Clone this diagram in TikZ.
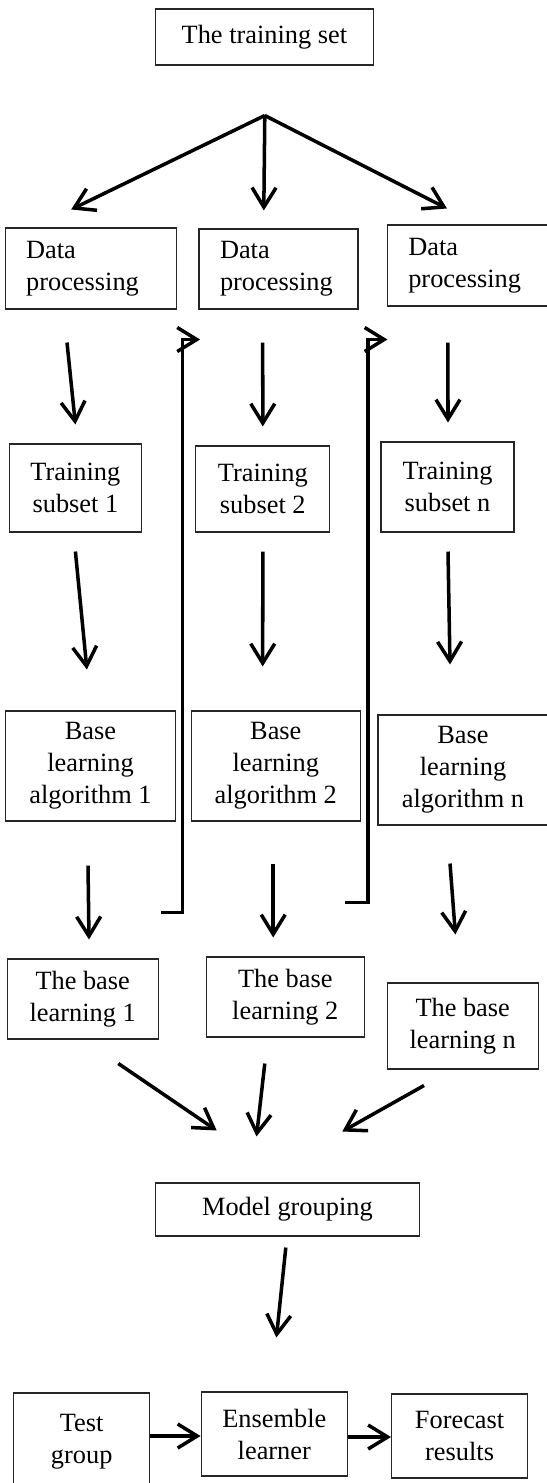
\documentclass[tikz,border=0pt]{standalone}
\usepackage{fontspec}
\setmainfont{Liberation Serif}
\usetikzlibrary{arrows.meta,calc}

\begin{document}
\begin{tikzpicture}[x=0.02cm, y=-0.02cm,
  blk/.style={draw=black!85, line width=0.6pt, align=center, font=\fontsize{15}{18.2}\selectfont},
  lblk/.style={blk, align=left, inner xsep=0.42cm},
  arr/.style={line width=2pt, -{Straight Barb[length=3.9mm,width=4.8mm]}},
  fbk/.style={arr, line cap=rect}]

\useasboundingbox (0,0) rectangle (547,1483);

\node[blk, minimum width=4.374cm, minimum height=1.12cm] (tset) at (264.4,37) {The training set};

\node[lblk, text width=2.594cm, minimum width=3.434cm, minimum height=1.62cm] (dp1) at (91,268.5) {Data\\processing};
\node[lblk, text width=2.34cm, minimum width=3.18cm, minimum height=1.6cm] (dp2) at (278.5,269) {Data\\processing};
\node[lblk, text width=3.014cm, minimum width=3.854cm, minimum height=1.62cm] (dp3) at (483.65,265.5) {Data\\processing};

\node[blk, minimum width=2.638cm, minimum height=1.76cm] (ts1) at (75.4,488) {Training\\subset 1};
\node[blk, minimum width=2.68cm, minimum height=1.72cm] (ts2) at (262.8,489) {Training\\subset 2};
\node[blk, minimum width=2.66cm, minimum height=1.8cm] (ts3) at (447.5,487) {Training\\subset n};

\node[blk, minimum width=3.414cm, minimum height=2.2cm] (bla1) at (90.5,766) {Base\\learning\\algorithm 1};
\node[blk, minimum width=3.37cm, minimum height=2.2cm] (bla2) at (275.8,766) {Base\\learning\\algorithm 2};
\node[blk, minimum width=3.4cm, minimum height=2.2cm] (bla3) at (463,770) {Base\\learning\\algorithm n};

\node[blk, minimum width=3.014cm, minimum height=1.6cm] (bl1) at (82.7,999) {The base\\learning 1};
\node[blk, minimum width=3.162cm, minimum height=1.6cm] (bl2) at (285.3,997) {The base\\learning 2};
\node[blk, minimum width=3.014cm, minimum height=1.72cm] (bl3) at (462.7,1026) {The base\\learning n};

\node[blk, minimum width=5.296cm, minimum height=1.06cm] (mg) at (287.4,1209.5) {Model grouping};

\node[blk, minimum width=2.722cm, minimum height=1.94cm] (tg) at (81.7,1441.5) {Test\\group};
\node[blk, minimum width=2.93cm, minimum height=1.68cm] (el) at (274.3,1434) {Ensemble\\learner};
\node[blk, minimum width=2.724cm, minimum height=1.68cm] (fr) at (459.6,1436) {Forecast\\results};

\coordinate (fork) at ($(tset.south)+(0.4,50)$);
\draw[arr] (fork) -- ($(dp1.north)+(-19.8,-18)$);
\draw[arr] (fork) -- ($(dp2.north)+(-14.7,-18)$);
\draw[arr] (fork) -- ($(dp3.north)+(-36.7,-16)$);

\draw[arr] ($(dp1.south)+(-24,33)$) -- ($(ts1.north)+(0,-19)$);
\draw[arr] ($(dp2.south)+(-15.8,33)$) -- ($(ts2.north)+(0,-19)$);
\draw[arr] ($(dp3.south)+(-35.7,36)$) -- ($(ts3.north)+(0.5,-19)$);

\draw[arr] ($(ts1.south)+(0,19)$) -- ($(bla1.north)+(-3.6,-41)$);
\draw[arr] ($(ts2.south)+(0,19)$) -- ($(bla2.north)+(-13.1,-44)$);
\draw[arr] ($(ts3.south)+(0.5,19)$) -- ($(bla3.north)+(-13,-50)$);

\draw[arr] ($(bla1.south)+(-2.5,44)$) -- ($(bl1.north)+(6.3,-19)$);
\draw[arr] ($(bla2.south)+(-2.6,42)$) -- ($(bl2.north)+(-12.1,-19)$);
\draw[arr] ($(bla3.south)+(-13,38)$) -- ($(bl3.north)+(-7.3,-48)$);

\draw[fbk] ($(bla1.south east)+(-13.9,91)$) -- ++(20,0) |- ($(dp2.south west)+(1.6,30)$);
\draw[fbk] ($(bla2.south east)+(-14.1,81)$) -- ++(21.5,0) |- ($(dp3.south west)+(0.7,33)$);

\draw[arr] ($(bl1.south)+(35.6,24)$) -- ($(mg.north)+(-70.7,-52)$);
\draw[arr] ($(bl2.south)+(-20.5,26)$) -- ($(mg.north)+(-30.9,-46)$);
\draw[arr] ($(bl3.south)+(-38.7,16)$) -- ($(mg.north)+(54.9,-51)$);

\draw[arr] ($(mg.south)+(-1.6,11)$) -- ($(el.north)+(2.1,-54)$);

\draw[arr] ($(tg.east)+(0,-5.5)$) -- ($(el.west)+(0,2)$);
\draw[arr] ($(el.east)+(0,3)$) -- ($(fr.west)+(0,1)$);
\end{tikzpicture}
\end{document}
